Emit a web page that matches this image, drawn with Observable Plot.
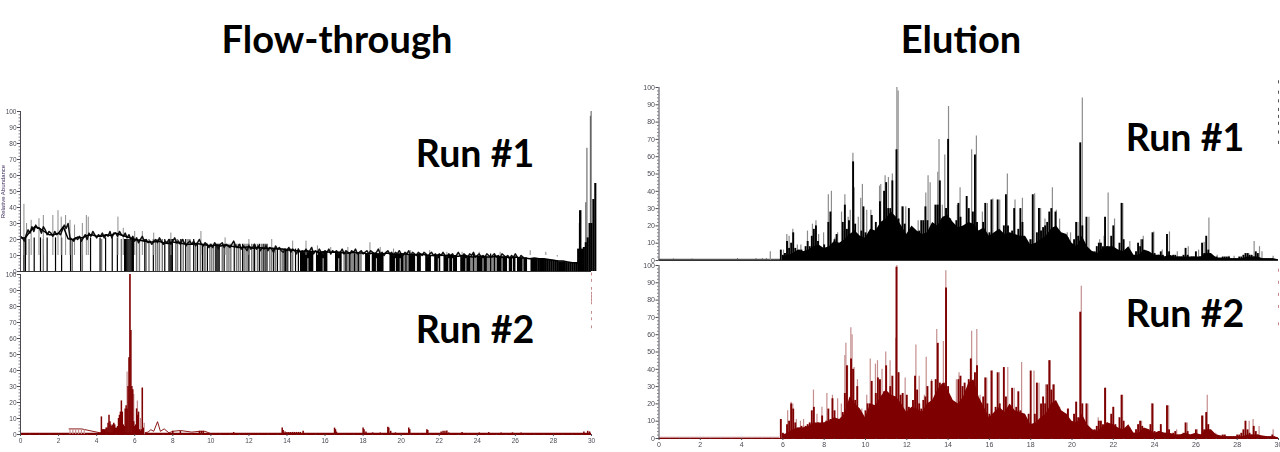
<!DOCTYPE html>
<html>
<head>
<meta charset="utf-8">
<script src="https://cdn.jsdelivr.net/npm/d3@7"></script>
<script src="https://cdn.jsdelivr.net/npm/@observablehq/plot@0.6"></script>
<style>
html,body{margin:0;padding:0;background:#fff;}
#page{position:relative;width:1280px;height:452px;overflow:hidden;font-family:Lato,sans-serif;}
#page svg{position:absolute;filter:blur(0.3px);}
.lab{position:absolute;font-weight:700;color:#000;white-space:nowrap;transform:translate(-50%,-50%);line-height:1;}
.title{font-size:38px;}
.run{font-size:37.5px;}
</style>
</head>
<body>
<div id="page"></div>
<script>
const xTicks = [0,2,4,6,8,10,12,14,16,18,20,22,24,26,28,30];
const xMinor = [1,3,5,7,9,11,13,15,17,19,21,23,25,27,29,0.5,1.5,2.5,3.5,4.5,5.5,6.5,7.5,8.5,9.5,10.5,11.5,12.5,13.5,14.5,15.5,16.5,17.5,18.5,19.5,20.5,21.5,22.5,23.5,24.5,25.5,26.5,27.5,28.5,29.5];
const yTicks = [0,10,20,30,40,50,60,70,80,90,100];
const yMinor = [2,4,6,8,12,14,16,18,22,24,26,28,32,34,36,38,42,44,46,48,52,54,56,58,62,64,66,68,72,74,76,78,82,84,86,88,92,94,96,98];

// Flow-through Run #1: trace sampled every 0.25 min from 0
const ftRun1Band = [21,21,25,28,27,25,23,23,24,28,20.5,20,21.5,21,22.5,23,22,22,23,22.5,24,23,22,21,20,19.5,19,18.5,18.5,19,18,17.5,18.5,18,17.5,17,17,17.5,17,16.5,16,16.5,16,16.5,16,15.5,15,15,15.5,14.5,15,14.5,14.5,14.5,14,14,13.5,13.5,13,12.5,13,12.5,12.5,12,12.5,12,12,12,11.5,11.5,12,11.5,11.5,11,11.5,11,11,11.5,11,10.5,11,11,10.5,10.5,11,10.5,10,10,10.5,10,10,9.5,9.5,10,9.5,9,9.5,9.5,9,9,9.5,9,9,8.5,9,8.5,8.5,8,8.5,8,8,7.5,7,6.5,6.5,6,5.5,5.5,5];
// Flow-through Run #1: upper jagged edge, every 0.1 min from 0
const ftRun1Jitter = [22,21,19,23,26,24,28,25,29,27,27,24,28,26,23,25,24,22,25,23,24,23,26,29,27,30,21,20,19,21,20,22,19,21,23,20,24,22,25,23,21,23,22,24,21,23,22,25,21,24,24,22,25,23,22,24,21,23,20,22,19,21,18,20,22,19,20,18,19,17,19,20,18,21,19,17,19,18,20,17,19,21,18,19,17,20,18,16,18,19,17,19,16,18,20,17,16,18,17,15,17,15,18,16,14,17,18,15,17,16,15,17,19,16,15,17,14,16,15,13,16,14,15,17,14,16,13,15,14,16,13,15,14,12,16,14,15,13,12,14,13,15,12,14,13,11,14,12,13,12,14,12,13,15,11,13,12,14,12,11,13,12,14,11,13,12,13,11,12,14,11,13,12,11,13,12,14,11,12,13,11,12,13,11,13,12,11,12,14,11,12,10,12,13,11,12,10,12,11,13,11,10,12,11,13,10,12,11,10,12,11,10,12,11,9,11,12,10,11,9,11,10,12,10,9,11,10,11,9,10,12,10,9,11,10,9,11,10,12,9,10,11,9,10,9,11,10,9,10,11,9,10,9,11,10,9,10,8,10,9,11,9,8,10,9];
const ftRun1Spikes = [[0.18,42],[0.32,30],[0.56,32],[0.97,33],[1.2,35],[1.7,35],[1.97,38],[2.14,34],[2.37,35],[2.6,32],[2.84,29],[3.25,30],[3.46,35],[3.56,34],[5.12,34],[5.4,27],[6.0,25],[6.4,25],[7.0,24],[7.9,24],[9.48,25],[10.75,21],[12,20],[13.2,20],[14.3,19],[15,19],[15.6,16],[16.3,15],[17.2,15],[18.36,18],[18.9,15],[19.6,14],[20.5,13],[21.5,13],[22.4,12],[23.2,12],[24.1,12],[25.2,12],[26.78,13],[27.6,12],[28.2,9]];
// stems grouped by the height they reach
const ftRun1DarkGroups = [
 [21,[0.18,0.26,0.72,1.05,1.4,1.84,2.16,2.63,3.16,3.68,4.18,4.47,4.82,5.09]],
 [20,[5.47,5.52,5.58,5.64,5.7,5.76,5.82,5.88,5.93,6.53,6.98,7.58,7.8,7.86,7.92,7.98,8.42,8.68,9.1]],
 [17,[9.3,9.56,9.82,10.26,10.32,10.38,10.44,10.7,11.23,11.67,12,12.3,12.55,12.75,12.85,12.95]],
 [14,[13.3,13.5,13.85,13.92,14,14.2,14.45,14.6]],
 [11,[17.1,17.3,17.55,17.75,20.25,23.8,24.7,24.9]]
];
const ftRun1GrayGroups = [
 [20,[0.45,1.2,2.72,3.25,4.26,5.3,6.1,6.25,6.6,6.75,7.1,7.2,7.3,7.45,8.16,8.25,8.55,8.8,8.9]],
 [17,[9.2,9.45,9.65,9.7,9.95,10.05,10.15,10.6,10.85,10.95,11.05,11.35,11.45,11.55,11.75,11.85,11.95,12.15,12.25,12.45,12.65]],
 [14,[13.1,13.2,13.4,13.65,13.75,14.05,14.3]]
];
// Flow-through Run #1: near-solid stretches [from, to, height]
const ftRun1Blocks = [[14.71,15.41,12.5],[15.55,16.15,12],[16.55,16.9,12],[18.13,18.39,11],[18.48,19.1,11],[19.41,20.15,11],[20.41,20.76,10.5],[20.85,21.06,10.5],[21.29,21.59,10],[21.76,22.08,10],[22.25,22.96,10],[23.13,23.66,9.5],[24,24.53,9],[25.06,25.59,9],[25.68,26.03,9],[26.11,26.64,8.5],[26.82,27.17,8]];
const ftRun1GrayBlocks = [[16.99,17.96,11.5],[20.15,20.41,10.5],[23.66,24,9],[24.53,25.06,9]];
const ftRun1WhiteLines = [15.1,15.9,16.72,18.7,19.7,19.95,21.95,22.5,22.7,23.4,24.3,25.3,25.85,26.4];
// Flow-through Run #1: dense end of the run, every 0.1 min from 27.2
const ftRun1End = [8,8,7.5,7.5,7.5,7,7,7,7,6.5,6.5,6,6,6,6,5.5,5.5,5.5,5,5,5,14,38,14,15,18,21,30,30,45,55];
const ftRun1EndGray = [[29.36,30],[29.45,38],[29.76,77],[29.94,97],[29.98,100],[29.7,43]];

// Flow-through Run #2
const ftRun2Times = [4.2,4.25,4.3,4.35,4.4,4.45,4.5,4.55,4.6,4.65,4.7,4.75,4.8,4.85,4.9,4.95,5,5.05,5.1,5.15,5.2,5.25,5.3,5.35,5.4,5.45,5.5,5.55,5.6,5.65,5.7,5.75,5.8,5.85,5.9,5.95,6,6.05,6.1,6.15,6.2,6.25,6.3,6.35,6.4,6.45];
const ftRun2Values = [1,11,3,3,3,3,4,4,7,12,8,6,5,6,7,6,4,4,5,10,12,14,21,14,6,5,16,18,16,30,48,100,65,30,28,8,5,6,16,12,14,3,2,3,29,4];
const ftRun2Light = [[5.6,39],[5.75,100],[5.95,25],[6.14,21],[6.3,10],[6.4,29],[6.5,7],[2.6,3.5],[2.75,3.5],[2.9,3.5],[3.05,3.5],[3.2,3.5],[3.35,3]];
const ftRun2LowT = [2.55,3.2,4.2,4.3,6.5,6.7,6.85,7.0,7.2,7.35,7.55,7.8,8.0,8.4,9.0,9.4,9.7,10];
const ftRun2LowY = [3.5,3.5,1,1,1,1.5,3,2,8,2,3.5,1,2,2.5,1.5,2,2,0.5];
const ftRun2Bumps = [[8,2],[8.4,2],[9.4,2],[9.5,2],[9.6,2],[11.2,1.2],[13.75,4],[13.8,2.5],[13.9,1.5],[14,1.3],[14.1,1.3],[14.2,1.3],[14.3,1.3],[14.4,1.3],[14.5,1.3],[14.6,1.3],[14.7,1.3],[14.85,2],[16.5,4],[16.55,3],[16.6,1.5],[18,4],[18.05,3],[18.15,1.5],[18.5,1],[18.9,1],[19.3,4.5],[19.35,4],[19.45,2],[19.7,1],[20.4,4],[20.45,3],[21.35,3],[21.4,2.5],[22.1,1.5],[22.2,2],[22.3,2],[22.4,2.2],[22.5,1],[23.2,1.2],[24.1,1],[24.6,1.2],[25.25,1],[25.85,1],[26.3,1],[29.6,1.5],[29.8,2],[29.9,1.6]];
const ftRun2Dashes = [100,96,91,88,86,84,82,76,72,67];

// Elution Run #1: main trace, every 0.1 min from 5.9
const elRun1Body = [6,3,4,11,7,10,16,7,5,6,6,5,8,11,8,14,18,20,11,8,6,9,5,22,28,0,12,15,9,10,22,32,18,23,14,57,21,12,8,17,31,16,14,16,26,14,22,12,34,16,40,45,30,30,46,18,64,24,17,31,21,14,30,14,16,14,11,17,23,23,31,23,13,19,14,32,32,46,24,22,30,70,24,19,18,23,33,25,14,20,37,30,0,28,61,22,15,14,22,33,13,16,35,15,14,35,16,14,20,38,20,14,17,30,12,18,30,22,12,9,9,12,38,9,16,30,17,19,20,22,28,30,19,28,16,14,12,14,13,13,10,6,12,22,14,68,20,7,25,6,5,5,5,8,10,10,8,25,8,6,14,20,6,4,10,33,12,5,7,5,3,2,5,10,8,12,5,3,3,4,16,4,2,3,5,3,2,15,5,2,3,3,2,2,2,3,7,3,1,2,2,5,1,2,10,4,14,6,2,1,2,2,1,1,2,2,2,2,1,1,1,1,2,2,3,4,4,3,3,2,5,4,1,1,1,1,1,1,1,0.7,0.5];
// Elution Run #1: solid lower envelope, every 0.25 min from 6
const elRun1Floor = [2,3,4,6,5,6,8,9,7,8,11,10,12,15,17,14,13,18,17,22,24,28,25,20,15,20,17,15,16,22,20,25,26,22,19,20,22,21,17,19,14,16,18,15,16,15,14,14,9,10,12,14,18,20,16,15,10,8,14,8,5,4,7,8,8,6,5,8,3,3,6,5,3,3,2,3,2,2,2,2,2,2,4,4,1.5,1.5,1,1,1,1,2,2,2,1,1,1,0.5];
const elRun1Spikes = [[5.39,5],[6.03,6],[6.19,15],[6.3,14],[6.48,18],[6.7,9],[6.87,9],[7.19,17],[7.43,21],[7.6,23],[7.73,15],[7.97,16],[8.2,38],[8.35,40],[8.52,13],[8.65,16],[8.84,28],[9.0,38],[9.16,25],[9.26,29],[9.39,62],[9.45,42],[9.65,25],[9.77,36],[9.85,44],[10.06,29],[10.26,29],[10.68,43],[10.74,44],[10.95,49],[11.11,48],[11.3,50],[11.52,100],[11.58,98],[11.76,31],[11.95,31],[12.3,16],[12.55,23],[12.92,39],[13.03,49],[13.13,45],[13.35,32],[13.5,51],[13.56,70],[13.72,32],[13.84,61],[14.02,89],[14.21,22],[14.45,32],[14.58,42],[15.14,64],[15.37,72],[15.66,28],[15.9,33],[16.17,35.6],[16.5,35],[16.87,50],[17.24,35],[17.6,36],[17.95,12],[18.19,38.6],[18.48,30],[18.69,24],[19.05,42],[19.24,29],[19.4,24],[19.77,16],[19.93,16],[20.29,22],[20.5,94],[20.82,25],[21.34,12],[21.55,14],[21.75,39],[22.06,24],[22.46,33],[22.8,11],[23.32,12],[23.45,14],[23.96,16.5],[24.37,6],[24.72,16.5],[25.1,5],[25.63,8],[26.13,6],[26.4,10.5],[26.63,24.6],[27.03,3],[27.6,2.5],[27.85,2.5],[28.56,4],[28.82,11],[29.08,8],[29.2,5],[29.74,2.5]];
const elRun1Bumps = [[0.7,0.8],[1.6,0.8],[3.8,1],[4.7,1],[5,1],[5.2,1]];

// Elution Run #2: main trace, every 0.1 min from 5.9
const elRun2Body = [11,3,2,8,10,20,17,9,6,6,7,6,7,8,9,16,18,8,9,6,13,9,10,17,11,23,16,10,10,9,15,26,42,20,46,40,22,30,15,10,8,16,20,20,33,17,26,35,34,22,27,42,24,30,36,15,99,38,25,26,12,25,18,12,22,36,28,20,17,22,24,30,17,33,20,34,55,32,28,32,87,30,24,18,19,20,34,36,30,32,28,34,46,32,38,42,22,18,24,35,20,14,39,12,18,38,20,16,41,24,14,18,29,14,18,27,16,12,9,8,14,39,8,14,32,0,20,24,20,31,45,28,31,20,18,15,12,13,14,17,10,8,14,21,12,73,20,6,20,5,4,4,5,7,10,10,8,29,9,5,14,18,8,4,12,25,10,5,6,4,3,3,5,8,10,7,4,3,4,8,20,4,3,4,8,3,3,19,5,2,3,4,2,2,2,3,9,4,2,2,2,5,2,2,13,5,15,8,3,2,2,2,1,1,2,2,1,1,1,1,1,2,2,3,5,10,5,3,2,7,4,2,1,1,1,1,1,1,2,1,0.5];
// Elution Run #2: solid lower envelope, every 0.25 min from 6
const elRun2Floor = [2,3,5,6,6,7,9,9,9,10,12,11,14,24,20,17,12,20,19,24,28,25,24,20,15,18,17,15,20,22,28,32,28,22,20,24,32,34,24,18,12,15,18,15,20,16,15,14,8,9,12,14,20,22,16,14,10,9,14,8,5,4,7,9,8,6,5,8,3,3,6,5,3,4,3,3,2,2,3,2,3,2,5,5,2,1.5,1,1,1,1,2,2,2,1.5,1,1,0.5];
const elRun2Spikes = [[6.23,16],[6.4,21],[6.48,20],[6.65,11],[6.85,10],[7,11],[7.48,28],[7.65,14],[7.89,18],[8.13,26],[8.4,25],[8.65,23],[8.83,20],[9,48],[9.05,55],[9.13,42],[9.29,64],[9.35,60],[9.45,41],[9.61,34],[9.82,17],[10.06,25],[10.23,46],[10.48,43],[10.58,45],[10.8,40],[10.98,50],[11.19,45],[11.47,58],[11.52,100],[11.6,38],[11.92,35],[12.08,18],[12.44,54],[12.6,36],[12.85,25],[12.94,47],[13.2,34],[13.45,63],[13.77,56],[13.89,97],[14.02,25],[14.4,34],[14.53,38],[15.14,62],[15.39,63],[15.55,25],[15.87,35],[16.14,39],[16.48,38],[16.89,41],[17.2,29],[17.56,44],[17.9,12],[18.16,39],[18.4,32],[18.72,31],[18.95,45],[19.15,31],[19.4,18],[19.82,17],[20.22,21],[20.45,88],[20.77,20],[21.27,12],[21.63,29],[22.0,18],[22.45,25],[22.8,6],[23.37,10],[23.85,20],[24.29,8],[24.68,19],[25.07,5],[25.58,9],[26.07,5],[26.35,13],[26.55,25],[26.96,3],[28.58,10],[28.77,11],[29.06,7],[29.74,5]];

const elDashes1 = [103,97,92,87,83,79,74,68];
const elDashes2 = [97,90,83,76,66];

const panelColors = {
  black: {dark:"#000000", light:"#8c8c8c"},
  red: {dark:"#7f0000", light:"#c58e8e"}
};
const axisColor = "#4a4a55";

function pairs(list){ return list.map(([t,v]) => ({t, v})); }
function stepped(t0, step, values){ return values.map((v,i) => ({t: +(t0 + i*step).toFixed(2), v})); }
function grouped(groups){ return groups.flatMap(([v,ts]) => ts.map(t => ({t, v}))); }
function dashMark(list, stroke){ return Plot.ruleX(list, {x:()=>30, y1:d=>d-0.9, y2:d=>d+0.9, stroke, strokeWidth:1}); }

function basePanel({left, top, width, height, mL, mR, mT, mB, labels, color, marks, size}){
  const c = panelColors[color];
  const p = Plot.plot({
    width, height,
    marginLeft: mL, marginRight: mR, marginTop: mT, marginBottom: mB,
    style: {background:"transparent", fontFamily:"'Liberation Sans',sans-serif", overflow:"hidden"},
    x: {domain:[0,30], axis:null},
    y: {domain:[0,100], axis:null},
    marks: [
      ...marks(c),
      Plot.ruleX([0], {stroke:axisColor, strokeWidth:1}),
      Plot.ruleY([0], {stroke: color==="red"?"#7f0000":"#333", strokeWidth:1}),
      Plot.axisY({ticks:yTicks, tickSize:3, tickPadding:1, label:null, color:axisColor, fontSize:size, strokeWidth:1}),
      Plot.axisY({ticks:yMinor, tickSize:1.5, text:null, label:null, color:axisColor, strokeWidth:0.7}),
      labels ? Plot.axisX({ticks:xTicks, tickSize:2, tickPadding:1.5, label:null, color:axisColor, fontSize:size}) : null,
      labels ? Plot.axisX({ticks:xMinor, tickSize:1, text:null, label:null, color:axisColor, strokeWidth:0.7}) : null
    ]
  });
  p.style.left = left+"px"; p.style.top = top+"px";
  return p;
}

const page = document.getElementById("page");

function label(text, x, y, cls){
  const d = document.createElement("div");
  d.className = "lab "+cls; d.textContent = text;
  d.style.left = x+"px"; d.style.top = y+"px";
  page.appendChild(d);
}

// Flow-through Run #2
page.appendChild(basePanel({left:0, top:264, width:600, height:188, mL:20, mR:9, mT:10, mB:18, labels:true, color:"red", size:6.5,
  marks: c => [
    Plot.ruleY([0.6], {stroke:c.dark, strokeWidth:1.4}),
    Plot.line(ftRun2LowT.map((t,i)=>({t, v:ftRun2LowY[i]})), {x:"t", y:"v", stroke:c.dark, strokeWidth:0.9}),
    Plot.ruleX(pairs(ftRun2Light), {x:"t", y1:0, y2:"v", stroke:c.light, strokeWidth:1.2}),
    Plot.ruleX(ftRun2Times.map((t,i)=>({t, v:ftRun2Values[i]})), {x:"t", y1:0, y2:"v", stroke:c.dark, strokeWidth:1.5}),
    Plot.ruleX(pairs(ftRun2Bumps), {x:"t", y1:0, y2:"v", stroke:c.dark, strokeWidth:1.5}),
    dashMark(ftRun2Dashes, c.light)
  ]
}));

// Flow-through Run #1
page.appendChild(basePanel({left:0, top:100, width:600, height:174, mL:20, mR:9, mT:11, mB:3, labels:false, color:"black", size:6.5,
  marks: c => [
    Plot.ruleX(grouped(ftRun1GrayGroups), {x:"t", y1:0, y2:"v", stroke:"#777", strokeWidth:1.4}),
    Plot.rectY(ftRun1GrayBlocks, {x1:d=>d[0], x2:d=>d[1], y1:0, y2:d=>d[2], fill:"#8a8a8a", inset:0}),
    Plot.ruleX(grouped(ftRun1DarkGroups), {x:"t", y1:0, y2:"v", stroke:c.dark, strokeWidth:1.2}),
    Plot.rectY(ftRun1Blocks, {x1:d=>d[0], x2:d=>d[1], y1:0, y2:d=>d[2], fill:c.dark, inset:0}),
    Plot.ruleX(ftRun1WhiteLines, {x:d=>d, y1:0, y2:8, stroke:"#fff", strokeWidth:0.8}),
    Plot.ruleX(pairs(ftRun1Spikes), {x:"t", y1:10, y2:"v", stroke:c.light, strokeWidth:1}),
    Plot.ruleX(pairs(ftRun1EndGray), {x:"t", y1:0, y2:"v", stroke:"#555", strokeWidth:1}),
    Plot.ruleX(stepped(27.2, 0.1, ftRun1End), {x:"t", y1:0, y2:"v", stroke:c.dark, strokeWidth:2.1}),
    Plot.line(stepped(0, 0.1, ftRun1Jitter), {x:"t", y:"v", stroke:"#111", strokeWidth:1.5}),
    Plot.line(stepped(0, 0.25, ftRun1Band), {x:"t", y:"v", stroke:c.dark, strokeWidth:1.5}),
    Plot.text(["Relative Abundance"], {x:0, y:50, rotate:-90, dx:-17, fontSize:6, fill:"#3a2a5a", textAnchor:"middle"})
  ]
}));

// Elution Run #2
page.appendChild(basePanel({left:640, top:256, width:640, height:196, mL:18.5, mR:2, mT:9, mB:14, labels:true, color:"red", size:7,
  marks: c => [
    Plot.ruleY([0.6], {x1:0, x2:5.85, stroke:c.light, strokeWidth:1.6}),
    Plot.ruleX(pairs(elRun2Spikes), {x:"t", y1:0, y2:"v", stroke:c.light, strokeWidth:1.2}),
    Plot.areaY(stepped(6, 0.25, elRun2Floor), {x:"t", y:"v", fill:c.dark}),
    Plot.ruleX(stepped(5.9, 0.1, elRun2Body), {x:"t", y1:0, y2:"v", stroke:c.dark, strokeWidth:1.9}),
    dashMark(elDashes2, c.light)
  ]
}));

// Elution Run #1
page.appendChild(basePanel({left:640, top:78, width:640, height:185, mL:18.5, mR:2, mT:9, mB:3, labels:false, color:"black", size:7,
  marks: c => [
    Plot.ruleY([0.6], {x1:0, x2:5.9, stroke:"#555", strokeWidth:1.6}),
    Plot.ruleX(pairs(elRun1Bumps), {x:"t", y1:0, y2:"v", stroke:"#555", strokeWidth:1}),
    Plot.ruleX(pairs(elRun1Spikes), {x:"t", y1:0, y2:"v", stroke:c.light, strokeWidth:1.2}),
    Plot.areaY(stepped(6, 0.25, elRun1Floor), {x:"t", y:"v", fill:c.dark}),
    Plot.ruleX(stepped(5.9, 0.1, elRun1Body), {x:"t", y1:0, y2:"v", stroke:c.dark, strokeWidth:1.9}),
    dashMark(elDashes1, "#555")
  ]
}));

label("Flow-through", 337, 38, "title");
label("Elution", 961, 38, "title");
label("Run #1", 475, 153, "run");
label("Run #2", 475, 329, "run");
label("Run #1", 1185, 137, "run");
label("Run #2", 1185, 313, "run");
</script>
</body>
</html>
